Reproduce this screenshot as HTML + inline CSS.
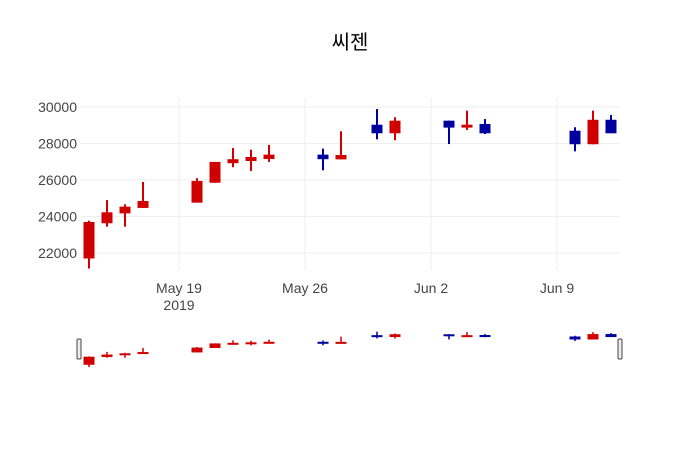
<!DOCTYPE html>
<html><head><meta charset="utf-8"><style>
body{margin:0;background:#fff;}
svg text{font-family:"Liberation Sans","Noto Sans CJK KR",sans-serif;fill:#444;}
</style></head><body>
<svg id="c" width="700" height="450" xmlns="http://www.w3.org/2000/svg">
<rect width="700" height="450" fill="#fff"/>
<text x="350" y="49" text-anchor="middle" font-size="20" style="fill:#000">씨젠</text>
<g id="grid"></g><g id="candles"></g><g id="slider"></g><g id="labels"></g>
</svg>
<script>
const dates=["2019-05-14","2019-05-15","2019-05-16","2019-05-17","2019-05-20","2019-05-21","2019-05-22","2019-05-23","2019-05-24","2019-05-27","2019-05-28","2019-05-30","2019-05-31","2019-06-03","2019-06-04","2019-06-05","2019-06-10","2019-06-11","2019-06-12"];
const opens=[21700,23630,24170,24470,24760,25850,26920,27040,27150,27390,27130,29030,28560,29250,28870,29070,28700,27960,29300];
const highs=[23770,24900,24670,25890,26100,26990,27750,27660,27920,27720,28670,29890,29440,29250,29800,29340,28890,29800,29560];
const lows=[21150,23440,23440,24470,24760,25850,26700,26490,26990,26530,27130,28230,28180,27970,28740,28520,27570,27960,28560];
const closes=[23700,24230,24540,24850,25950,26990,27140,27260,27390,27140,27370,28560,29250,28870,29030,28560,27960,29300,28560];
const yTicks=[22000,24000,26000,28000,30000];
const xTickDates=["2019-05-19","2019-05-26","2019-06-02","2019-06-09"];
const xTickLabels=["May 19","May 26","Jun 2","Jun 9"];

const NS="http://www.w3.org/2000/svg";
const base=Date.UTC(2019,4,19);
function day(d){const p=d.split("-");return (Date.UTC(+p[0],+p[1]-1,+p[2])-base)/86400000;}
function x(d){return 179+day(d)*18;}
function y(v){return 107+(30000-v)*0.01825;}
function ys(v){return 367-(v-21150)*0.00404;}
function mk(parent,tag,attrs){const e=document.createElementNS(NS,tag);for(const k in attrs)e.setAttribute(k,attrs[k]);document.getElementById(parent).appendChild(e);return e;}

yTicks.forEach(t=>{
  const l=mk('grid','line',{x1:80,x2:620,y1:y(t),y2:y(t),stroke:'#eee','stroke-width':1});
  
  
  const tx=mk('labels','text',{x:77,y:y(t)+5,'text-anchor':'end','font-size':14});
  tx.textContent=t;
  
  
});
xTickDates.forEach((d,i)=>{
  const l=mk('grid','line',{x1:x(d),x2:x(d),y1:98,y2:270,stroke:'#eee','stroke-width':1});
  
  
  const tx=mk('labels','text',{x:x(d),y:293,'text-anchor':'middle','font-size':14});
  tx.textContent=xTickLabels[i];
  
  
});
const yr=mk('labels','text',{x:x(xTickDates[0]),y:310,'text-anchor':'middle','font-size':14});
yr.textContent="2019";



dates.forEach((d,i)=>{
  const up=closes[i]>=opens[i];
  const col=up?'#d10000':'#00009e';
  const cx=x(d);
  const top=Math.max(opens[i],closes[i]),bot=Math.min(opens[i],closes[i]);
  const w=mk('candles','line',{x1:cx,x2:cx,y1:y(highs[i]),y2:y(lows[i]),stroke:col,'stroke-width':2});
  
  
  const b=mk('candles','rect',{x:cx-5.5,y:y(top),width:11,height:Math.max(y(bot)-y(top),2),fill:col});
  
  
  const sw=mk('slider','line',{x1:cx,x2:cx,y1:ys(highs[i]),y2:ys(lows[i]),stroke:col,'stroke-width':1.5});
  
  
  const sb=mk('slider','rect',{x:cx-5.5,y:ys(top),width:11,height:Math.max(ys(bot)-ys(top),2),fill:col});
  
  
});
[79,620].forEach((hx,i)=>{
  const h=mk('slider','rect',{x:hx-2,y:339,width:4,height:20,rx:1,fill:'#eee',stroke:'#444','stroke-width':1});
  
  
});
</script>
</body></html>
